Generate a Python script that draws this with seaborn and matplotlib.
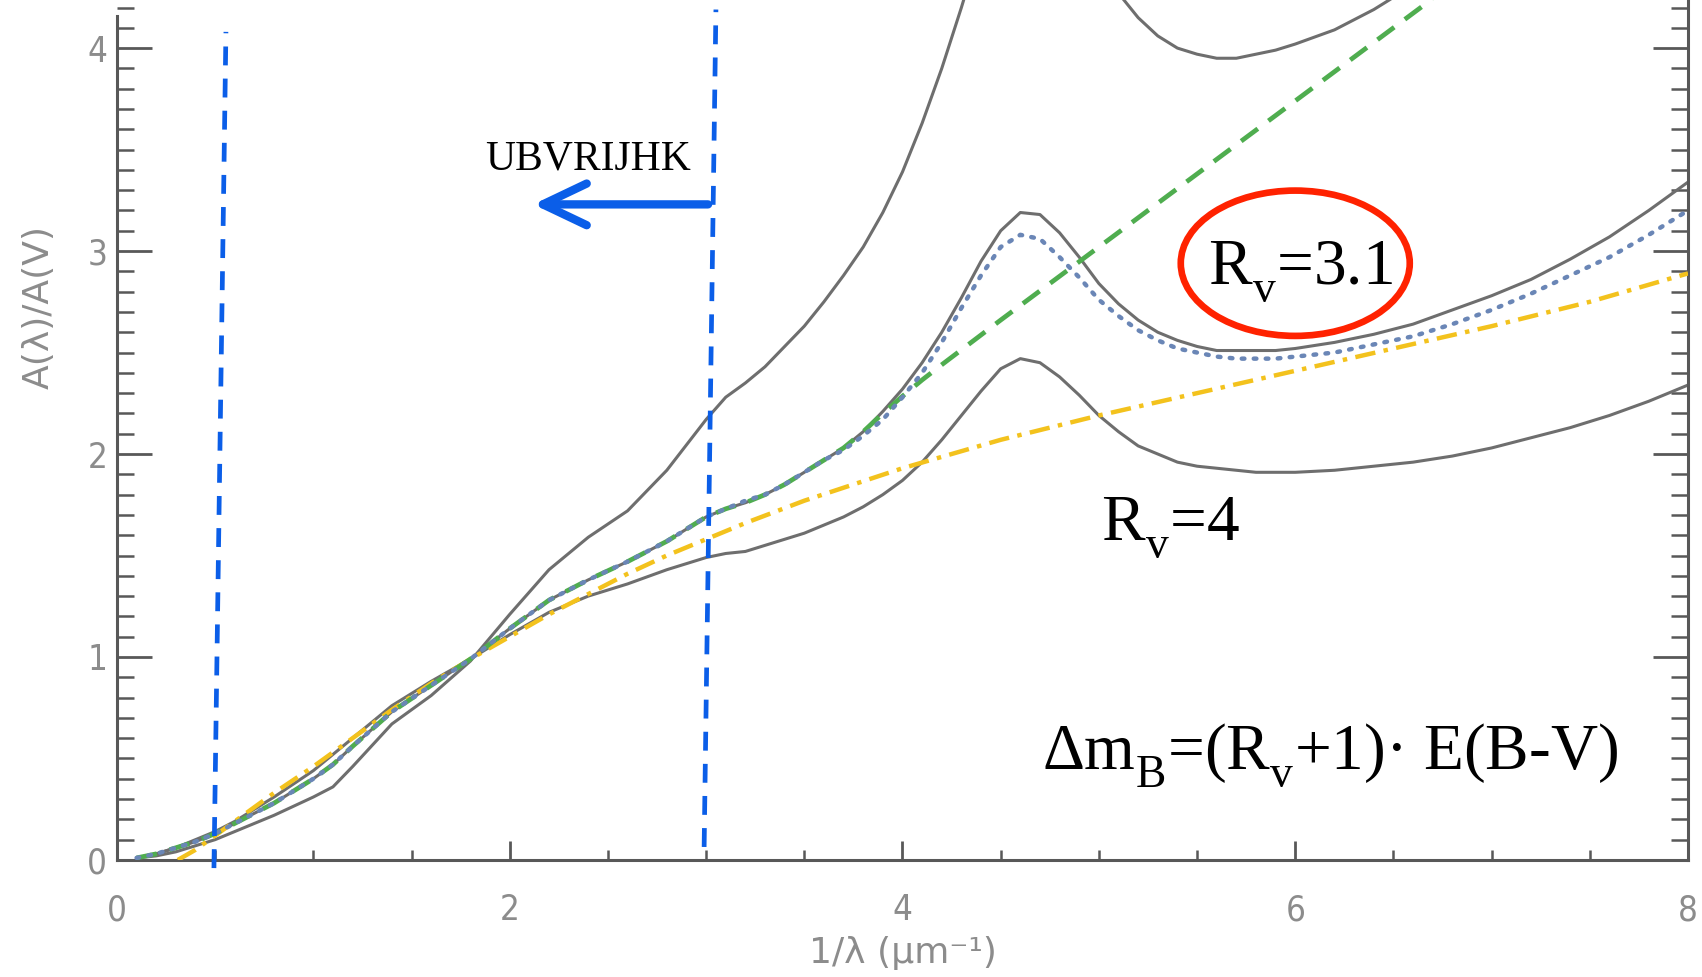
import matplotlib
matplotlib.use("Agg")
import matplotlib.pyplot as plt
import seaborn as sns
import pandas as pd
from matplotlib.patches import Ellipse
from matplotlib.ticker import MultipleLocator

try:  # lower subscripts a bit, like the reference's typesetting
    import matplotlib._mathtext as _mt
    _mt.FontConstantsBase.sub1 = 0.62
except Exception:
    pass

# ---------------- data ----------------
inv_wavelength = [0.1, 0.2, 0.3, 0.4, 0.5, 0.6, 0.8, 1.0, 1.1, 1.2, 1.4, 1.6, 1.8, 2.0, 2.2, 2.4, 2.6, 2.8,
                  3.0, 3.1, 3.2, 3.3, 3.4, 3.5, 3.6, 3.7, 3.8, 3.9, 4.0, 4.1, 4.2, 4.3, 4.4, 4.5, 4.6, 4.7,
                  4.8, 4.9, 5.0, 5.1, 5.2, 5.3, 5.4, 5.5, 5.6, 5.7, 5.8, 5.9, 6.0, 6.2, 6.4, 6.6, 6.8, 7.0,
                  7.2, 7.4, 7.6, 7.8, 8.0]
ext_rv2 = [0.01, 0.02, 0.04, 0.07, 0.10, 0.14, 0.22, 0.31, 0.36, 0.46, 0.67, 0.81, 0.98, 1.21, 1.43, 1.59,
           1.72, 1.92, 2.17, 2.28, 2.35, 2.43, 2.53, 2.63, 2.75, 2.88, 3.02, 3.19, 3.39, 3.63, 3.90, 4.20,
           4.52, 4.78, 4.94, 4.94, 4.82, 4.63, 4.44, 4.27, 4.15, 4.06, 4.00, 3.97, 3.95, 3.95, 3.97, 3.99,
           4.02, 4.09, 4.19, 4.31, 4.45, 4.61, 4.79, 4.99, 5.22, 5.48, 5.76]
ext_rv31 = [0.01, 0.03, 0.06, 0.09, 0.13, 0.18, 0.28, 0.40, 0.47, 0.56, 0.73, 0.86, 0.99, 1.14, 1.28, 1.38,
            1.47, 1.57, 1.69, 1.73, 1.76, 1.80, 1.85, 1.91, 1.97, 2.03, 2.11, 2.21, 2.32, 2.45, 2.60, 2.77,
            2.95, 3.10, 3.19, 3.18, 3.09, 2.97, 2.84, 2.74, 2.66, 2.60, 2.56, 2.53, 2.51, 2.51, 2.51, 2.51,
            2.52, 2.55, 2.59, 2.64, 2.71, 2.78, 2.86, 2.96, 3.07, 3.20, 3.34]
ext_rv4 = [0.01, 0.03, 0.06, 0.10, 0.14, 0.19, 0.31, 0.44, 0.52, 0.60, 0.76, 0.88, 0.99, 1.11, 1.22, 1.30,
           1.36, 1.43, 1.49, 1.51, 1.52, 1.55, 1.58, 1.61, 1.65, 1.69, 1.74, 1.80, 1.87, 1.96, 2.07, 2.19,
           2.31, 2.42, 2.47, 2.45, 2.38, 2.29, 2.19, 2.11, 2.04, 2.00, 1.96, 1.94, 1.93, 1.92, 1.91, 1.91,
           1.91, 1.92, 1.94, 1.96, 1.99, 2.03, 2.08, 2.13, 2.19, 2.26, 2.34]
ext_dotted = [0.01, 0.03, 0.06, 0.09, 0.13, 0.18, 0.28, 0.40, 0.47, 0.56, 0.73, 0.86, 0.99, 1.14, 1.28, 1.38,
              1.47, 1.57, 1.69, 1.73, 1.77, 1.80, 1.85, 1.91, 1.97, 2.02, 2.09, 2.17, 2.28, 2.40, 2.55, 2.72,
              2.88, 3.02, 3.08, 3.06, 2.97, 2.87, 2.76, 2.68, 2.61, 2.56, 2.52, 2.50, 2.48, 2.47, 2.47, 2.47,
              2.48, 2.50, 2.54, 2.58, 2.64, 2.71, 2.79, 2.88, 2.97, 3.08, 3.20]

green_x = [0.1, 0.2, 0.3, 0.4, 0.5, 0.6, 0.8, 1.0, 1.1, 1.2, 1.4, 1.6, 1.8, 2.0, 2.2, 2.4, 2.6, 2.8,
           3.0, 3.1, 3.2, 3.3, 3.4, 3.5, 3.6, 3.7, 3.8, 3.9, 4.0, 4.1, 4.2, 4.5, 5.0, 5.5, 6.0, 6.5, 7.0]
green_y = [0.01, 0.03, 0.06, 0.09, 0.13, 0.18, 0.28, 0.40, 0.47, 0.56, 0.73, 0.86, 0.99, 1.14, 1.28, 1.38,
           1.47, 1.57, 1.69, 1.73, 1.76, 1.80, 1.85, 1.91, 1.97, 2.03, 2.11, 2.20, 2.285, 2.365, 2.44,
           2.66, 3.02, 3.38, 3.74, 4.10, 4.46]

yellow_x = [0.31, 0.4, 0.5, 0.6, 0.8, 1.0, 1.2, 1.4, 1.6, 1.8, 2.0, 2.2, 2.4, 2.6, 2.8, 3.0, 3.2, 3.5,
            4.0, 4.5, 5.0, 5.5, 6.0, 6.5, 7.0, 7.5, 8.0]
yellow_y = [0.0, 0.05, 0.12, 0.19, 0.33, 0.46, 0.60, 0.74, 0.87, 0.99, 1.10, 1.21, 1.31, 1.41, 1.50, 1.58,
            1.66, 1.77, 1.93, 2.07, 2.19, 2.30, 2.41, 2.52, 2.63, 2.75, 2.89]

band_lines_x = [[0.494, 0.555], [2.99, 3.05]]
band_lines_y = [[-0.04, 4.08], [0.064, 4.19]]
arrow_tail = (3.01, 3.23)
arrow_tip = (2.12, 3.23)

# ---------------- style ----------------
sns.set_theme(style="white")
plt.rcParams["font.family"] = ["DejaVu Sans"]
plt.rcParams["mathtext.fontset"] = "custom"
plt.rcParams["mathtext.rm"] = "Liberation Serif"
plt.rcParams["mathtext.it"] = "Liberation Serif:italic"
plt.rcParams["mathtext.bf"] = "Liberation Serif:bold"

fig = plt.figure(figsize=(17.02, 9.77), dpi=100)
ax = fig.add_axes([0.0687, 0.1198, 0.9231, 0.8802])

grey = "#6e6e6e"
df_ccm = pd.DataFrame({"x": inv_wavelength, "r2": ext_rv2, "r31": ext_rv31, "r4": ext_rv4,
                       "dot": ext_dotted})
for col in ["r2", "r31", "r4"]:
    sns.lineplot(data=df_ccm, x="x", y=col, ax=ax, color=grey, lw=2.2, estimator=None,
                 sort=False, solid_joinstyle="round", solid_capstyle="round", zorder=2)
sns.lineplot(x=yellow_x, y=yellow_y, ax=ax, color="#f3c21d", lw=3.2, estimator=None, sort=False,
             linestyle=(0, (4.6, 1.9, 1.0, 1.9)), zorder=3)
sns.lineplot(x=green_x, y=green_y, ax=ax, color="#4fad4f", lw=3.4, estimator=None, sort=False,
             linestyle=(0, (4.4, 2.8)), zorder=4)
sns.lineplot(data=df_ccm, x="x", y="dot", ax=ax, color="#6a86b6", lw=3.2, estimator=None,
             sort=False, linestyle=(0, (0.6, 2.1)), dash_capstyle="round", zorder=5)

blue = "#0b5ee8"
for bx, by in zip(band_lines_x, band_lines_y):
    ax.plot(bx, by, color=blue, lw=3.4, linestyle=(0, (4.0, 2.8)), clip_on=False, zorder=6)

ax.annotate("", xy=arrow_tip, xytext=arrow_tail,
            arrowprops=dict(arrowstyle="->,head_length=2.1,head_width=1.0", color=blue, lw=6,
                            capstyle="round", joinstyle="round", shrinkA=0, shrinkB=0,
                            mutation_scale=15), zorder=7)

serif = "Liberation Serif"
ax.text(1.875, 3.40, "UBVRIJHK", fontsize=30, family=serif, color="black", ha="left", va="baseline")
ax.text(5.555, 2.84, r"R$_\mathrm{v}$=3.1", fontsize=47, family=serif, color="black",
        ha="left", va="baseline", zorder=8)
ax.text(5.01, 1.58, r"R$_\mathrm{v}$=4", fontsize=47, family=serif, color="black",
        ha="left", va="baseline", zorder=8)
ax.text(4.71, 0.45, r"Δm$_\mathrm{B}$=(R$_\mathrm{v}$+1)· E(B-V)", fontsize=47, family=serif,
        color="black", ha="left", va="baseline", zorder=8)
ax.add_patch(Ellipse((6.0, 2.94), width=1.166, height=0.716, fill=False, ec="#ff2200", lw=4.8,
                     zorder=9))

# ---------------- axes ----------------
ax.set_xlim(0, 8)
ax.set_ylim(0, 4.237)
ax.xaxis.set_major_locator(MultipleLocator(2))
ax.xaxis.set_minor_locator(MultipleLocator(0.5))
ax.yaxis.set_major_locator(MultipleLocator(1))
ax.yaxis.set_minor_locator(MultipleLocator(0.1))

spine_c = "#585858"
for s in ["left", "right", "bottom"]:
    ax.spines[s].set_color(spine_c)
    ax.spines[s].set_linewidth(2.2)
ax.spines["top"].set_visible(False)
ax.spines["left"].set_bounds(0, 4.16)

tick_c = "#8c8c8c"
ax.tick_params(axis="both", which="both", direction="in", colors=spine_c, labelcolor=tick_c,
               labelsize=25, top=False, right=True, left=True, bottom=True)
ax.tick_params(axis="x", which="major", length=14, width=2.0, pad=24)
ax.tick_params(axis="x", which="minor", length=7, width=1.8)
ax.tick_params(axis="y", which="major", length=25, width=2.0, pad=7)
ax.tick_params(axis="y", which="minor", length=12.5, width=1.8)
for lab in ax.get_xticklabels() + ax.get_yticklabels():
    lab.set_fontstretch("condensed")

ax.set_xlabel("1/λ (μm⁻¹)", fontsize=26, color=tick_c)
ax.set_ylabel("A(λ)/A(V)", fontsize=26, color=tick_c)
ax.xaxis.set_label_coords(0.5, -0.089)
ax.yaxis.set_label_coords(-0.039, 0.643)
ax.grid(False)

fig.savefig("out.png", dpi=100, facecolor="white")
